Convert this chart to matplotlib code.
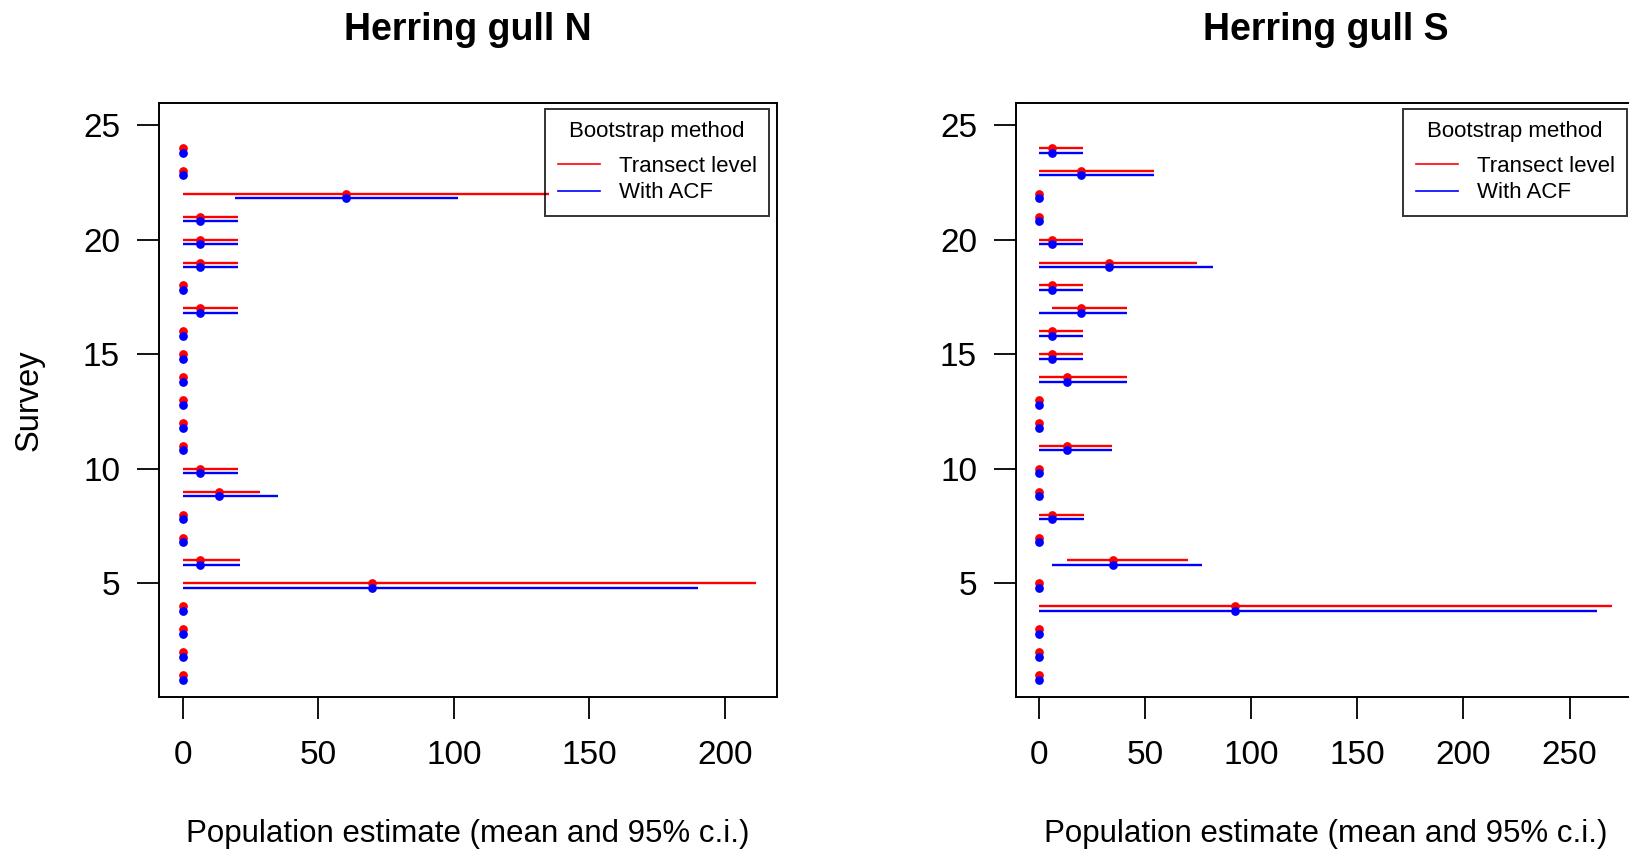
import matplotlib.pyplot as plt
from matplotlib.lines import Line2D

plt.rcParams['font.family'] = ['Liberation Sans', 'DejaVu Sans']

# survey number
survey = list(range(1, 25))

# Herring gull N
n_mean = [0, 0, 0, 0, 69.8, 6.3, 0, 0, 13.6, 6.3, 0, 0, 0, 0, 0, 0,
          6.3, 0, 6.3, 6.3, 6.3, 60.1, 0, 0]
n_red_lo = [0] * 24
n_red_hi = [0, 0, 0, 0, 211.4, 21.0, 0, 0, 28.4, 20.4, 0, 0, 0, 0, 0, 0,
            20.4, 0, 20.4, 20.4, 20.4, 135.0, 0, 0]
n_blue_lo = [0, 0, 0, 0, 0, 0, 0, 0, 0, 0, 0, 0, 0, 0, 0, 0,
             0, 0, 0, 0, 0, 19.5, 0, 0]
n_blue_hi = [0, 0, 0, 0, 190.0, 21.0, 0, 0, 35.0, 20.4, 0, 0, 0, 0, 0, 0,
             20.4, 0, 20.4, 20.4, 20.4, 101.5, 0, 0]

# Herring gull S
s_mean = [0, 0, 0, 92.2, 0, 34.7, 0, 6.3, 0, 0, 13.1, 0, 0, 13.1, 6.3, 6.3,
          19.7, 6.3, 32.9, 6.3, 0, 0, 19.7, 6.3]
s_red_lo = [0, 0, 0, 0, 0, 13.1, 0, 0, 0, 0, 0, 0, 0, 0, 0, 0,
            6.3, 0, 0, 0, 0, 0, 0, 0]
s_red_hi = [0, 0, 0, 270.0, 0, 70.4, 0, 21.4, 0, 0, 34.6, 0, 0, 41.3, 20.6, 20.6,
            41.3, 20.6, 74.3, 20.6, 0, 0, 54.3, 20.6]
s_blue_lo = [0, 0, 0, 0, 0, 6.3, 0, 0, 0, 0, 0, 0, 0, 0, 0, 0,
             0, 0, 0, 0, 0, 0, 0, 0]
s_blue_hi = [0, 0, 0, 262.7, 0, 77.0, 0, 21.4, 0, 0, 34.6, 0, 0, 41.3, 20.6, 20.6,
             41.3, 20.6, 81.8, 20.6, 0, 0, 54.3, 20.6]

W, H = 1629, 851
fig = plt.figure(figsize=(W / 100, H / 100), dpi=100)


def panel(rect, title, mean, rlo, rhi, blo, bhi, xlim, xticks):
    ax = fig.add_axes(rect)
    y_red = [s for s in survey]
    y_blue = [s - 0.2 for s in survey]
    ax.hlines(y_red, rlo, rhi, color='red', lw=1.7, capstyle='butt')
    ax.plot(mean, y_red, 'o', color='red', ms=6.3, mew=0)
    ax.hlines(y_blue, blo, bhi, color='blue', lw=1.7, capstyle='butt')
    ax.plot(mean, y_blue, 'o', color='blue', ms=6.3, mew=0)
    ax.set_xlim(*xlim)
    ax.set_ylim(0.04, 25.96)
    ax.set_xticks(xticks)
    ax.set_yticks([5, 10, 15, 20, 25])
    ax.tick_params(labelsize=24, length=16, width=1.3, colors='black')
    ax.tick_params(axis='x', pad=15)
    ax.tick_params(axis='y', pad=12)
    for sp in ax.spines.values():
        sp.set_linewidth(1.4)
    handles = [Line2D([], [], color='red', lw=1.2),
               Line2D([], [], color='blue', lw=1.2)]
    leg = ax.legend(handles, ['Transect level', 'With ACF'],
                    title='Bootstrap method', loc='upper right',
                    bbox_to_anchor=(0.987, 0.99), borderaxespad=0,
                    fontsize=16, title_fontsize=16, fancybox=False,
                    edgecolor='black', facecolor='none',
                    handlelength=1.9, handletextpad=0.85, labelspacing=0.24,
                    borderpad=0.55)
    leg._legend_box.sep = 10
    leg.get_frame().set_linewidth(1.4)
    cx = rect[0] + rect[2] / 2
    fig.text(cx, 1 - 40 / H, title, ha='center', va='baseline',
             fontsize=27, fontweight='bold')
    fig.text(cx, 1 - 834 / H, 'Population estimate (mean and 95% c.i.)',
             ha='center', va='center', fontsize=22.5)
    return ax


panel([159 / W, 1 - 697 / H, 618 / W, 594 / H], 'Herring gull N',
      n_mean, n_red_lo, n_red_hi, n_blue_lo, n_blue_hi,
      (-8.7, 219.2), [0, 50, 100, 150, 200])
panel([1016 / W, 1 - 697 / H, 619 / W, 594 / H], 'Herring gull S',
      s_mean, s_red_lo, s_red_hi, s_blue_lo, s_blue_hi,
      (-10.8, 280.8), [0, 50, 100, 150, 200, 250])

fig.text(29 / W, 1 - 400 / H, 'Survey', rotation=90, ha='center',
         va='center', fontsize=23.5)

fig.savefig('out.png', dpi=100)
